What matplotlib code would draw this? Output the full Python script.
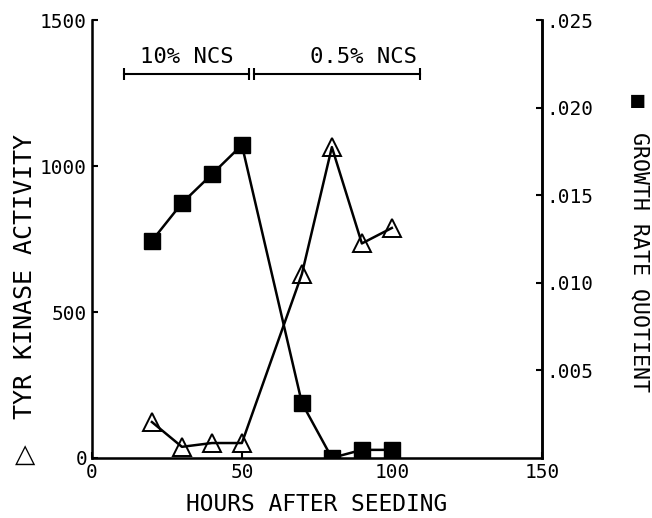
import matplotlib
matplotlib.use('Agg')
from matplotlib import pyplot as plt

plt.rcParams['font.family'] = ['DejaVu Sans Mono', 'DejaVu Sans']

# tyr kinase activity (left axis, open triangles)
kin_hours = [20, 30, 40, 50, 70, 80, 90, 100]
kin_activity = [123, 38, 51, 51, 630, 1065, 735, 788]

# growth rate quotient (right axis, filled squares)
gr_hours = [20, 30, 40, 50, 70, 80, 90, 100]
gr_quotient = [0.0124, 0.01455, 0.0162, 0.01787, 0.00314, 0.0, 0.00046, 0.00046]

# serum condition brackets
phases = ['10% NCS', '0.5% NCS']
phase_start = [10.7, 54.0]
phase_end = [52.3, 109.3]
bracket_level = 1315

fig = plt.figure(figsize=(6.52, 5.18), dpi=100)
ax = fig.add_subplot(111)
fig.subplots_adjust(left=0.141, right=0.831, bottom=0.116, top=0.961)

ax.plot(kin_hours, kin_activity, color='black', lw=1.8,
        marker='^', ms=13, mfc='none', mec='black', mew=1.4)
ax.set_xlim(0, 150)
ax.set_ylim(0, 1500)
ax.set_xticks([0, 50, 100, 150])
ax.set_yticks([0, 500, 1000, 1500])
ax.tick_params(direction='in', length=4, width=1.5, labelsize=14)
ax.spines['top'].set_visible(False)
for s in ['left', 'bottom', 'right']:
    ax.spines[s].set_linewidth(1.8)

ax.set_xlabel('HOURS AFTER SEEDING', fontsize=16.5, labelpad=8)
fig.text(0.038, 0.467, 'TYR KINASE ACTIVITY', rotation=90,
         fontsize=18, ha='center', va='center')
fig.text(0.038, 0.122, '\u25b3', fontsize=19,
         family='DejaVu Sans', ha='center', va='center')

for name, a, b in zip(phases, phase_start, phase_end):
    ax.plot([a, b], [bracket_level, bracket_level], color='black', lw=1.5,
            marker='|', ms=8, mew=1.5)
    ax.text((a + b) / 2 + (0 if name == phases[0] else 9), bracket_level + 25,
            name, fontsize=16, ha='center', va='bottom')

ax2 = ax.twinx()
ax2.plot(gr_hours, gr_quotient, color='black', lw=1.8,
         marker='s', ms=11, mfc='black', mec='black')
ax2.set_ylim(0, 0.025)
ax2.set_yticks([0.005, 0.010, 0.015, 0.020, 0.025])
ax2.set_yticklabels(['.005', '.010', '.015', '.020', '.025'])
ax2.tick_params(direction='in', length=4, width=1.5, labelsize=14)
ax2.spines['top'].set_visible(False)
ax2.spines['right'].set_linewidth(1.8)

fig.text(0.978, 0.805, '\u25a0', fontsize=16, ha='center', va='center')
fig.text(0.981, 0.494, 'GROWTH RATE QUOTIENT', rotation=-90,
         fontsize=15.5, ha='center', va='center')

fig.savefig('out.png', dpi=100)
